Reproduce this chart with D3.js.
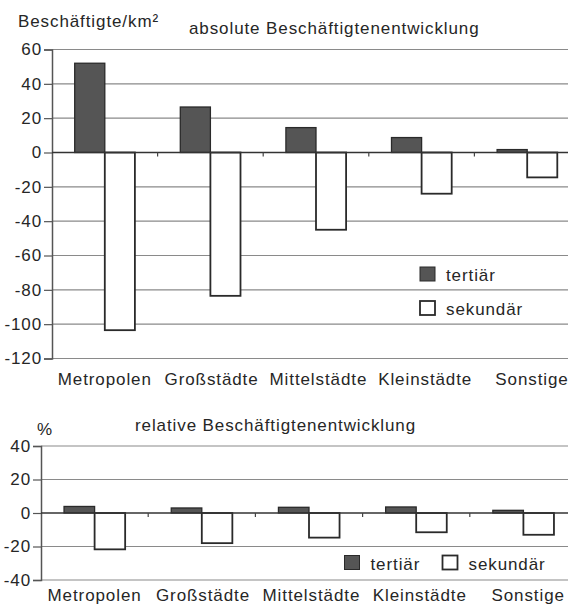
<!DOCTYPE html>
<html>
<head>
<meta charset="utf-8">
<script src="https://cdn.jsdelivr.net/npm/d3@7/dist/d3.min.js"></script>
<style>
    body { margin: 0; background: #fff; }
    svg text { font-family: "Liberation Sans", Arial, sans-serif; fill: #262626; letter-spacing: 0.9px; }
</style>
</head>
<body>
<div id="chart"></div>
<script>
const categories = ["Metropolen", "Großstädte", "Mittelstädte", "Kleinstädte", "Sonstige"];

// absolute Beschäftigtenentwicklung (Beschäftigte/km²)
const absTertiaer = [52, 26.5, 14.5, 8.7, 1.7];
const absSekundaer = [-103.5, -83.5, -45, -24, -14.5];
const absTicks = [60, 40, 20, 0, -20, -40, -60, -80, -100, -120];

// relative Beschäftigtenentwicklung (%)
const relTertiaer = [3.9, 3, 3.4, 3.6, 1.6];
const relSekundaer = [-21.7, -18, -14.7, -11.5, -13];
const relTicks = [40, 20, 0, -20, -40];

const seriesNames = ["tertiär", "sekundär"];

const W = 568, H = 604;

const svg = d3.select("#chart")
    .append("svg")
    .attr("width", W)
    .attr("height", H);

// Zeichnet ein Balkendiagramm
const drawPanel = (opt) => {
    const g = svg.append("g");

    const x = d3.scaleBand()
        .domain(categories)
        .range([opt.left, opt.right]);

    const y = d3.scaleLinear()
        .domain([opt.ticks[opt.ticks.length - 1], opt.ticks[0]])
        .range([opt.bottom, opt.top]);

    const barW = x.bandwidth() * 0.285;

    // Gitterlinien
    g.selectAll(".grid")
        .data(opt.ticks.filter(d => d !== 0))
        .enter()
        .append("line")
        .attr("x1", opt.left)
        .attr("x2", W)
        .attr("y1", d => y(d))
        .attr("y2", d => y(d))
        .attr("stroke", "#8a8a8a")
        .attr("stroke-width", 1.2);

    // y-Achse
    const yAxis = g.append("g")
        .attr("transform", "translate(" + opt.left + ",0)")
        .call(d3.axisLeft(y).tickValues(opt.ticks).tickSize(8).tickPadding(2).tickFormat(d => String(d)));
    yAxis.select(".domain").attr("stroke", "#555").attr("stroke-width", 1.5);
    yAxis.selectAll(".tick line").attr("stroke", "#555").attr("stroke-width", 1.2);
    yAxis.selectAll(".tick text")
        .style("font-size", "17px")
        .attr("fill", null)
        .attr("font-family", null);

    // Balken
    const tert = opt.tertiaer, sek = opt.sekundaer;
    g.selectAll(".tert")
        .data(categories)
        .enter()
        .append("rect")
        .attr("x", d => x(d) + x.bandwidth() / 2 - barW)
        .attr("y", (d, i) => y(Math.max(0, tert[i])))
        .attr("width", barW)
        .attr("height", (d, i) => Math.abs(y(tert[i]) - y(0)))
        .attr("fill", "#555")
        .attr("stroke", "#2a2a2a")
        .attr("stroke-width", 1.3);

    g.selectAll(".sek")
        .data(categories)
        .enter()
        .append("rect")
        .attr("x", d => x(d) + x.bandwidth() / 2)
        .attr("y", (d, i) => y(Math.max(0, sek[i])))
        .attr("width", barW)
        .attr("height", (d, i) => Math.abs(y(sek[i]) - y(0)))
        .attr("fill", "#fff")
        .attr("stroke", "#2a2a2a")
        .attr("stroke-width", 1.8);

    // Nulllinie mit Teilstrichen
    g.append("line")
        .attr("x1", opt.left)
        .attr("x2", W)
        .attr("y1", y(0))
        .attr("y2", y(0))
        .attr("stroke", "#333")
        .attr("stroke-width", 1.4);
    g.selectAll(".ztick")
        .data(categories.slice(1))
        .enter()
        .append("line")
        .attr("x1", d => x(d))
        .attr("x2", d => x(d))
        .attr("y1", y(0))
        .attr("y2", y(0) + 4)
        .attr("stroke", "#444")
        .attr("stroke-width", 1.2);

    // Kategorien
    g.selectAll(".cat")
        .data(categories)
        .enter()
        .append("text")
        .attr("x", (d, i) => x(d) + x.bandwidth() / 2 + i * 1.2)
        .attr("y", opt.catY)
        .attr("text-anchor", "middle")
        .style("font-size", "17px")
        .text(d => d);

    // Titel und Einheit
    g.append("text")
        .attr("x", opt.unitX)
        .attr("y", opt.unitY)
        .style("font-size", "17px")
        .text(opt.unit);
    g.append("text")
        .attr("x", opt.titleX)
        .attr("y", opt.titleY)
        .style("font-size", "17px")
        .text(opt.title);

    // Legende
    const leg = g.selectAll(".leg")
        .data(seriesNames)
        .enter()
        .append("g")
        .attr("transform", (d, i) => "translate(" + (opt.legX + i * opt.legDx) + "," + (opt.legY + i * opt.legDy) + ")");
    leg.append("rect")
        .attr("width", 15)
        .attr("height", 14)
        .attr("fill", (d, i) => i === 0 ? "#555" : "#fff")
        .attr("stroke", "#2a2a2a")
        .attr("stroke-width", (d, i) => i === 0 ? 1 : 1.8);
    leg.append("text")
        .attr("x", 26)
        .attr("y", 14)
        .style("font-size", "17px")
        .text(d => d);
};

drawPanel({
    left: 52, right: 580, top: 49.5, bottom: 358.5,
    ticks: absTicks, tertiaer: absTertiaer, sekundaer: absSekundaer,
    catY: 385,
    unit: "Beschäftigte/km²", unitX: 18, unitY: 27,
    title: "absolute Beschäftigtenentwicklung", titleX: 189, titleY: 34,
    legX: 420, legY: 267, legDx: 0, legDy: 34
});

drawPanel({
    left: 41, right: 577, top: 446, bottom: 580,
    ticks: relTicks, tertiaer: relTertiaer, sekundaer: relSekundaer,
    catY: 601,
    unit: "%", unitX: 37, unitY: 435,
    title: "relative Beschäftigtenentwicklung", titleX: 135, titleY: 431,
    legX: 344.5, legY: 555.5, legDx: 98, legDy: 0
});
</script>
</body>
</html>
